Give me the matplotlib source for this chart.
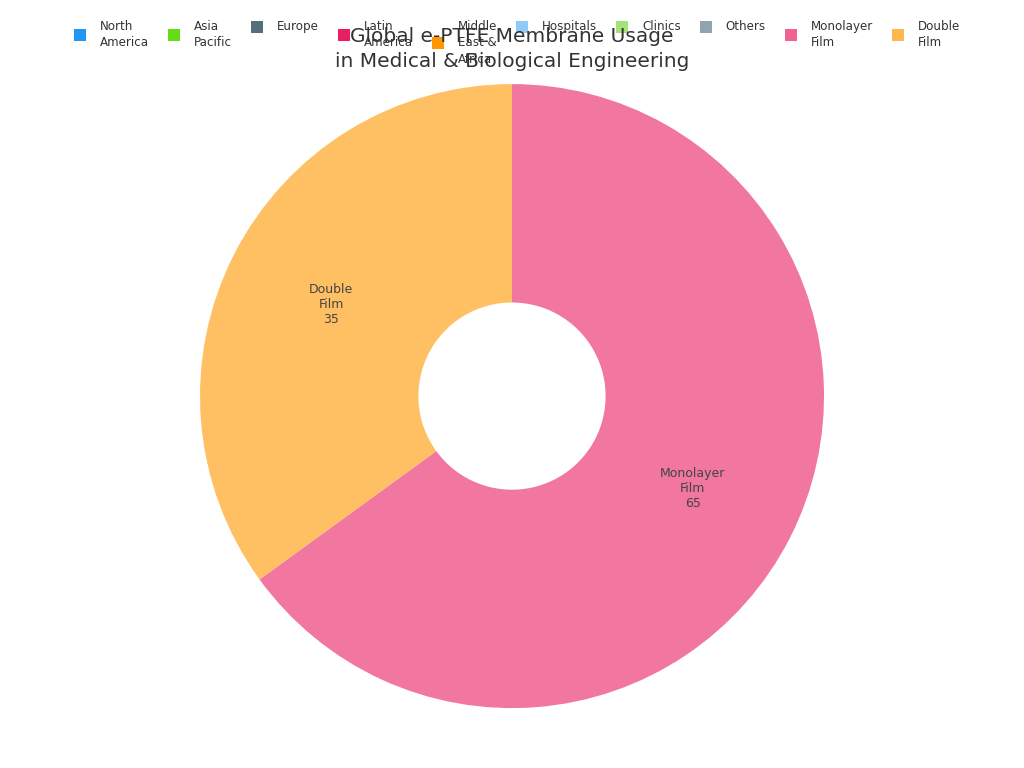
import matplotlib.pyplot as plt
from matplotlib.patches import Rectangle

# data
legend_names = ["North\nAmerica", "Asia\nPacific", "Europe", "Latin\nAmerica", "Middle\nEast &\nAfrica",
                "Hospitals", "Clinics", "Others", "Monolayer\nFilm", "Double\nFilm"]
legend_colors = ["#2196F3", "#64DD17", "#546E7A", "#E91E63", "#FF9800",
                 "#90CAF9", "#A5E37A", "#90A4AE", "#F06292", "#FFB74D"]
film_types = ["Monolayer\nFilm", "Double\nFilm"]
film_values = [65, 35]
film_colors = ["#F06292", "#FFB74D"]

W, H = 1024, 768
fig = plt.figure(figsize=(W / 100, H / 100), dpi=100)
ax = fig.add_axes([0.1953, 0.078, 0.6094, 0.8125])

wedges, texts = ax.pie(
    film_values,
    colors=film_colors,
    startangle=90,
    counterclock=False,
    radius=1.0,
    labels=[f"{n}\n{v}" for n, v in zip(film_types, film_values)],
    labeldistance=0.65,
    wedgeprops=dict(width=0.7, edgecolor="none", alpha=0.87),
    textprops=dict(fontsize=9, color="#444444", ha="center", va="center", multialignment="center"),
)
ax.set_xlim(-1, 1)
ax.set_ylim(-1, 1)
ax.set_aspect("equal")
ax.axis("off")

fig.text(0.5, 1 - 49 / H, "Global e-PTFE Membrane Usage\nin Medical & Biological Engineering",
         ha="center", va="center", fontsize=14.5, color="#333333", linespacing=1.38)

# legend laid out by hand: text top-aligned, marker centred on its label
renderer = fig.canvas.get_renderer()
box, gap_txt, gap_col = 12, 14, 19
top_px = 20
items = []
x = 0
for name, col in zip(legend_names, legend_colors):
    t = fig.text(0, 1 - top_px / H, name, ha="left", va="top", fontsize=8.6,
                 color="#333333", linespacing=1.35)
    bb = t.get_window_extent(renderer)
    items.append((t, col, x, bb.width, bb.height))
    x += box + gap_txt + bb.width + gap_col
total = x - gap_col
x0 = 517 - total / 2
for t, col, off, w, h in items:
    mx = x0 + off
    t.set_x((mx + box + gap_txt) / W)
    cy = top_px + h / 2
    fig.add_artist(Rectangle((mx / W, 1 - (cy + box / 2) / H), box / W, box / H,
                             transform=fig.transFigure, facecolor=col, edgecolor="none"))

fig.savefig("out.png", dpi=100)
